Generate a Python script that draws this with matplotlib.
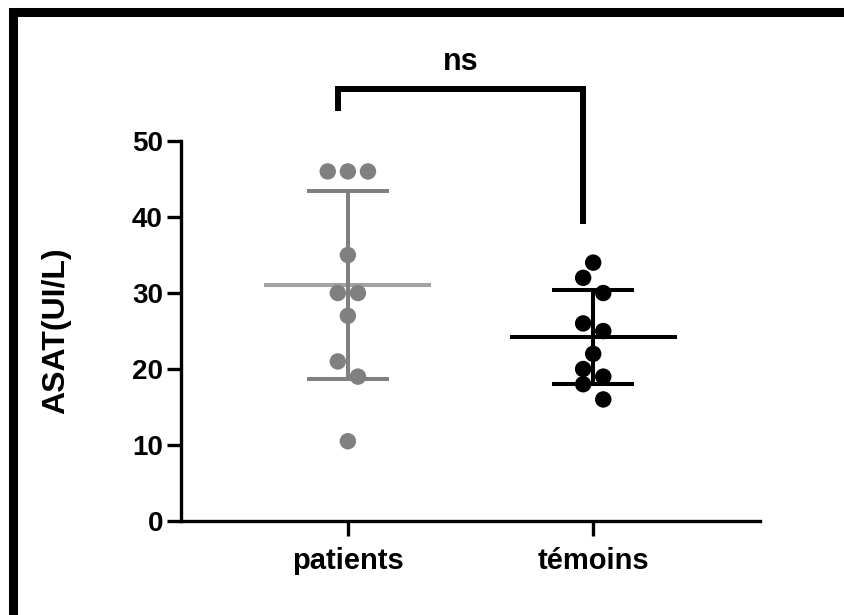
import numpy as np
import matplotlib.pyplot as plt
from matplotlib.patches import Rectangle

plt.rcParams["font.family"] = ["Liberation Sans", "DejaVu Sans"]
plt.rcParams["font.weight"] = "bold"

groupes = ["patients", "témoins"]
patients = [46, 46, 46, 35, 30, 30, 27, 21, 19, 10.5]
temoins = [34, 32, 30, 26, 25, 22, 20, 19, 18, 16]
test_label = "ns"
y_label = "ASAT(UI/L)"
y_ticks = [0, 10, 20, 30, 40, 50]

couleurs = ["#808080", "#000000"]
couleurs_moy = ["#a3a3a3", "#000000"]


def swarm(vals, bin_h=2.1, step=0.082):
    # regroupe les valeurs proches (de bas en haut) et les étale symétriquement
    v = np.sort(np.asarray(vals, dtype=float))
    xs, ys = [], []
    i = 0
    while i < len(v):
        j = i
        while j + 1 < len(v) and v[j + 1] - v[i] <= bin_h:
            j += 1
        row = v[i:j + 1][::-1]
        n = len(row)
        off = (np.arange(n) - (n - 1) / 2) * step
        xs.extend(off)
        ys.extend(row)
        i = j + 1
    return np.array(xs), np.array(ys)


fig = plt.figure(figsize=(8.44, 6.15), dpi=100)
ax = fig.add_axes([0.2145, 0.1528, 0.686, 0.6179])

for k, vals in enumerate([patients, temoins]):
    m = np.mean(vals)
    sd = np.std(vals, ddof=1)
    ax.plot([k - 0.34, k + 0.34], [m, m], color=couleurs_moy[k], lw=2.9,
            solid_capstyle="butt", zorder=2)
    ax.plot([k, k], [m - sd, m + sd], color=couleurs[k], lw=2.9,
            solid_capstyle="butt", zorder=2)
    for y in (m - sd, m + sd):
        ax.plot([k - 0.167, k + 0.167], [y, y], color=couleurs[k], lw=2.9,
                solid_capstyle="butt", zorder=2)
    dx, dy = swarm(vals)
    ax.scatter(k + dx, dy, s=140, color=couleurs[k], edgecolors="none",
               zorder=3)

# barre de significativité
top = max(max(patients), max(temoins)) + 10.8
ax.plot([-0.04, -0.04, 0.96, 0.96],
        [top - 2.9, top, top, max(temoins) + 5.1],
        color="black", lw=4.3, solid_capstyle="butt",
        solid_joinstyle="miter", clip_on=False)
ax.text(0.46, top + 3.6, test_label, ha="center", va="center",
        fontsize=22, fontweight="bold")

ax.set_xlim(-0.68, 1.68)
ax.set_ylim(0, 50)
ax.set_xticks([0, 1])
ax.set_xticklabels(groupes, fontsize=21, fontweight="bold")
ax.set_yticks(y_ticks)
ax.set_yticklabels([str(t) for t in y_ticks], fontsize=20, fontweight="bold")
ax.tick_params(axis="y", length=10, width=2.4, pad=3)
ax.tick_params(axis="x", length=11, width=2.4, pad=8)
for s in ["top", "right"]:
    ax.spines[s].set_visible(False)
for s in ["left", "bottom"]:
    ax.spines[s].set_linewidth(2.4)
ax.set_ylabel(y_label, fontsize=23, fontweight="bold")
ax.yaxis.set_label_coords(-0.19, 0.5)

# cadre noir autour de la figure
fig.patches.append(Rectangle((13.5 / 844, -0.003), 1.05, 0.9843, fill=False,
                             lw=6.5, edgecolor="black",
                             transform=fig.transFigure, clip_on=False))

fig.savefig("out.png", dpi=100)
